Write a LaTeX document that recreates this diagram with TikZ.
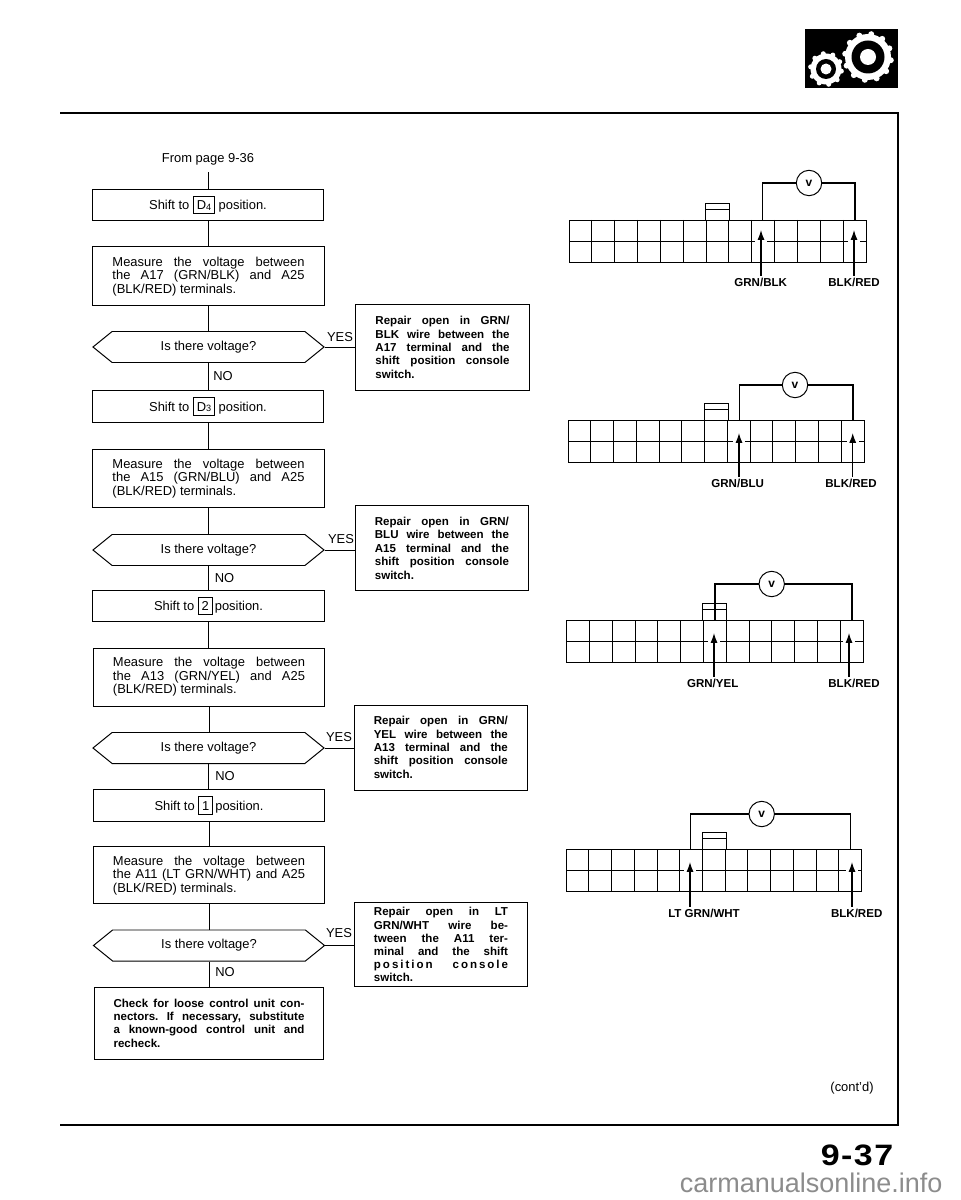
\documentclass[tikz,border=0pt]{standalone}
\usepackage{fontspec}
\usepackage{tikz}
\usetikzlibrary{arrows.meta,shapes.symbols}
\setmainfont{Liberation Sans}
\setlength{\fboxsep}{2pt}
\setlength{\fboxrule}{0.7pt}
\newcommand{\poskey}[1]{\fbox{\rule[-0.6pt]{0pt}{8pt}#1}}
\newcommand{\lowfig}[1]{\raisebox{-0.2pt}{\fontsize{6.5}{6.5}\selectfont #1}}
\newcommand{\widegap}[1]{{\addfontfeature{LetterSpace=17}#1}}

\begin{document}
\begin{tikzpicture}[x=0.025cm, y=-0.025cm, line width=0.7pt,
    plaintext/.style={font=\fontsize{9.2}{9.6}\selectfont},
    boldtext/.style={font=\fontsize{8.2}{9.5}\selectfont\bfseries\frenchspacing},
    shiftbox/.style={draw, plaintext, inner sep=0pt, minimum width=5.775cm, minimum height=0.79cm},
    textbox/.style={draw, inner xsep=0.4875cm, inner ysep=0pt, align=justify},
    measurebox/.style={textbox, plaintext, text width=4.8cm},
    repairbox/.style={textbox, boldtext, text width=3.35cm},
    hexbox/.style={draw, plaintext, signal, signal to=west and east, signal pointer angle=78,
        inner sep=0pt, minimum width=5.775cm, minimum height=0.775cm},
    wirelabel/.style={boldtext, inner sep=1pt},
    meter/.style={draw, circle, fill=white, inner sep=0pt, minimum size=0.635cm, font=\fontsize{8.5}{8.5}\selectfont\bfseries}
]
    \useasboundingbox (0,0) rectangle (960,1200);

    % Page frame
    \draw[line width=1pt] (60,113) -- (898,113) -- (898,1125) -- (60,1125);

    % Gear icon
    \fill[black] (805,29) rectangle (898,88);
    \foreach \gx/\gy/\ro/\ri/\rh/\tr/\na in {868/57/23/16.5/8/3/30, 826/69/15.5/10/5.5/2.5/36} {
        \fill[white] (\gx,\gy) circle (\ro);
        \foreach \a in {0,\na,...,359}
            \fill[white] ({\gx+\ro*cos(\a+8)},{\gy+\ro*sin(\a+8)}) circle (\tr);
        \fill[black] (\gx,\gy) circle (\ri);
        \fill[white] (\gx,\gy) circle (\rh);
    }

    % Flow chart boxes
    \node[plaintext, inner sep=0pt, minimum height=0.65cm] (from1) at (208,159) {From page 9-36};
    \node[shiftbox] (shift1) at (208,205) {Shift to \poskey{D\lowfig{4}} position.};
    \node[measurebox, minimum height=1.465cm] (meas1) at (208.5,276.3) {Measure the voltage between\linebreak the A17 (GRN/BLK) and A25\linebreak (BLK/RED) terminals.};
    \node[hexbox] (hex1) at (208.5,347) {Is there voltage?};
    \node[repairbox, minimum height=2.125cm] (repair1) at (442.5,347.5) {Repair open in GRN/\linebreak BLK wire between the\linebreak A17 terminal and the\linebreak shift position console\linebreak switch.};

    \node[shiftbox] (shift2) at (208,406.5) {Shift to \poskey{D\lowfig{3}} position.};
    \node[measurebox, minimum height=1.465cm] (meas2) at (208.5,478.3) {Measure the voltage between\linebreak the A15 (GRN/BLU) and A25\linebreak (BLK/RED) terminals.};
    \node[hexbox] (hex2) at (208.5,550) {Is there voltage?};
    \node[repairbox, minimum height=2.125cm] (repair2) at (441.9,548.2) {Repair open in GRN/\linebreak BLU wire between the\linebreak A15 terminal and the\linebreak shift position console\linebreak switch.};

    \node[shiftbox] (shift3) at (208.5,606) {Shift to \poskey{2}\,position.};
    \node[measurebox, minimum height=1.45cm] (meas3) at (209,677) {Measure the voltage between\linebreak the A13 (GRN/YEL) and A25\linebreak (BLK/RED) terminals.};
    \node[hexbox] (hex3) at (208.5,748) {Is there voltage?};
    \node[repairbox, minimum height=2.125cm] (repair3) at (440.8,747.5) {Repair open in GRN/\linebreak YEL wire between the\linebreak A13 terminal and the\linebreak shift position console\linebreak switch.};

    \node[shiftbox] (shift4) at (209,805.5) {Shift to \poskey{1}\,position.};
    \node[measurebox, minimum height=1.43cm] (meas4) at (209,875.3) {Measure the voltage between\linebreak the A11 (LT GRN/WHT) and A25\linebreak (BLK/RED) terminals.};
    \node[hexbox] (hex4) at (209,945.5) {Is there voltage?};
    \node[repairbox, minimum height=2.1cm, font=\fontsize{8.2}{9.4}\selectfont\bfseries\frenchspacing] (repair4) at (441,944.7) {Repair open in LT\linebreak GRN/WHT wire be-\linebreak tween the A11 ter-\linebreak minal and the shift\linebreak \widegap{position console}\linebreak switch.};
    \node[repairbox, text width=4.77cm, inner xsep=0.466cm, minimum height=1.8cm] (check1) at (209,1023) {Check for loose control unit con-\linebreak nectors. If necessary, substitute\linebreak a known-good control unit and\linebreak recheck.};

    % Flow lines
    \foreach \a/\b in {from1/shift1, shift1/meas1, meas1/hex1, hex1/shift2, shift2/meas2, meas2/hex2, hex2/shift3,
        shift3/meas3, meas3/hex3, hex3/shift4, shift4/meas4, meas4/hex4, hex4/check1}
        \draw (\a.south) -- (\a.south |- \b.north);
    \foreach \n in {1,...,4}
        \draw (hex\n.east) -- (hex\n.east -| repair\n.west);

    % Branch labels
    \foreach \n/\yy/\ny/\yx/\nx in {1/337/376/340/223, 2/539/578.5/341/224.5, 3/737/776.5/339/225, 4/933/972/339/225} {
        \node[plaintext, inner sep=0pt] (yes\n) at (\yx,\yy) {YES};
        \node[plaintext, inner sep=0pt] (no\n) at (\nx,\ny) {NO};
    }

    % Connectors with meter
    \foreach \n/\xl/\xr/\yt/\tabx/\taby/\vx/\vy/\wl/\wr/\al/\ar/\tipy/\lx/\rx/\ly/\lab in {
        1/569/866/220/705/203/809/183/762.7/855/761/854/230/760.7/854/282/{GRN/BLK},
        2/568/864/420/704/403/795/385/739.3/853/739/852.7/433/737.7/851/483/{GRN/BLU},
        3/566.7/863/620/702.7/603/771.7/584/715/852/714/849/633/712.7/854/683/{GRN/YEL},
        4/566/861.7/849/702/832.7/761.7/814/690.7/850.7/690/852/862/704/856.7/913/{LT GRN/WHT}} {
        \draw (\xl,\yt) rectangle (\xr,\yt+42);
        \draw (\xl,\yt+21) -- (\xr,\yt+21);
        \foreach \k in {1,...,12}
            \draw ({\xl+\k*(\xr-\xl)/13},\yt) -- ({\xl+\k*(\xr-\xl)/13},\yt+42);
        % Tab on top
        \draw (\tabx,\yt) -- (\tabx,\taby) -- (\tabx+24,\taby) -- (\tabx+24,\yt);
        \draw (\tabx,\taby+6) -- (\tabx+24,\taby+6);
        % Meter and wires
        \node[meter] (vm\n) at (\vx,\vy) {v};
        \coordinate (wl\n) at (\wl,\yt);
        \coordinate (wr\n) at (\wr,\yt);
        \draw[line width=0.9pt] (wl\n) |- (vm\n);
        \draw[line width=0.9pt] (wr\n) |- (vm\n);
        % Wire colour labels and arrows
        \node[wirelabel] (ll\n) at (\lx,\ly) {\lab};
        \node[wirelabel] (lr\n) at (\rx,\ly) {BLK/RED};
        \coordinate (tl\n) at (\al,\tipy);
        \coordinate (tr\n) at (\ar,\tipy);
        \draw[white, line width=1.5pt] (\al-6,\yt+21) -- (\al+6,\yt+21);
        \draw[white, line width=1.5pt] (\ar-6,\yt+21) -- (\ar+6,\yt+21);
        \draw[-{Latex[length=7pt,width=5pt]}, line width=0.9pt] (tl\n |- ll\n.north) -- (tl\n);
        \draw[-{Latex[length=7pt,width=5pt]}, line width=0.9pt] (tr\n |- lr\n.north) -- (tr\n);
    }

    % Page foot
    \node[plaintext, inner sep=0pt] (contd) at (852,1088) {(cont'd)};
    \node[inner sep=0pt, font=\fontsize{21}{21}\selectfont\bfseries] (pageno) at (857,1155) {\addfontfeature{FakeStretch=1.15,LetterSpace=5}9-37};
    \node[anchor=base east, inner sep=0pt, text=black!45, font=\fontsize{19.2}{20}\selectfont] (website) at (943,1192) {carmanualsonline.info};
\end{tikzpicture}
\end{document}
